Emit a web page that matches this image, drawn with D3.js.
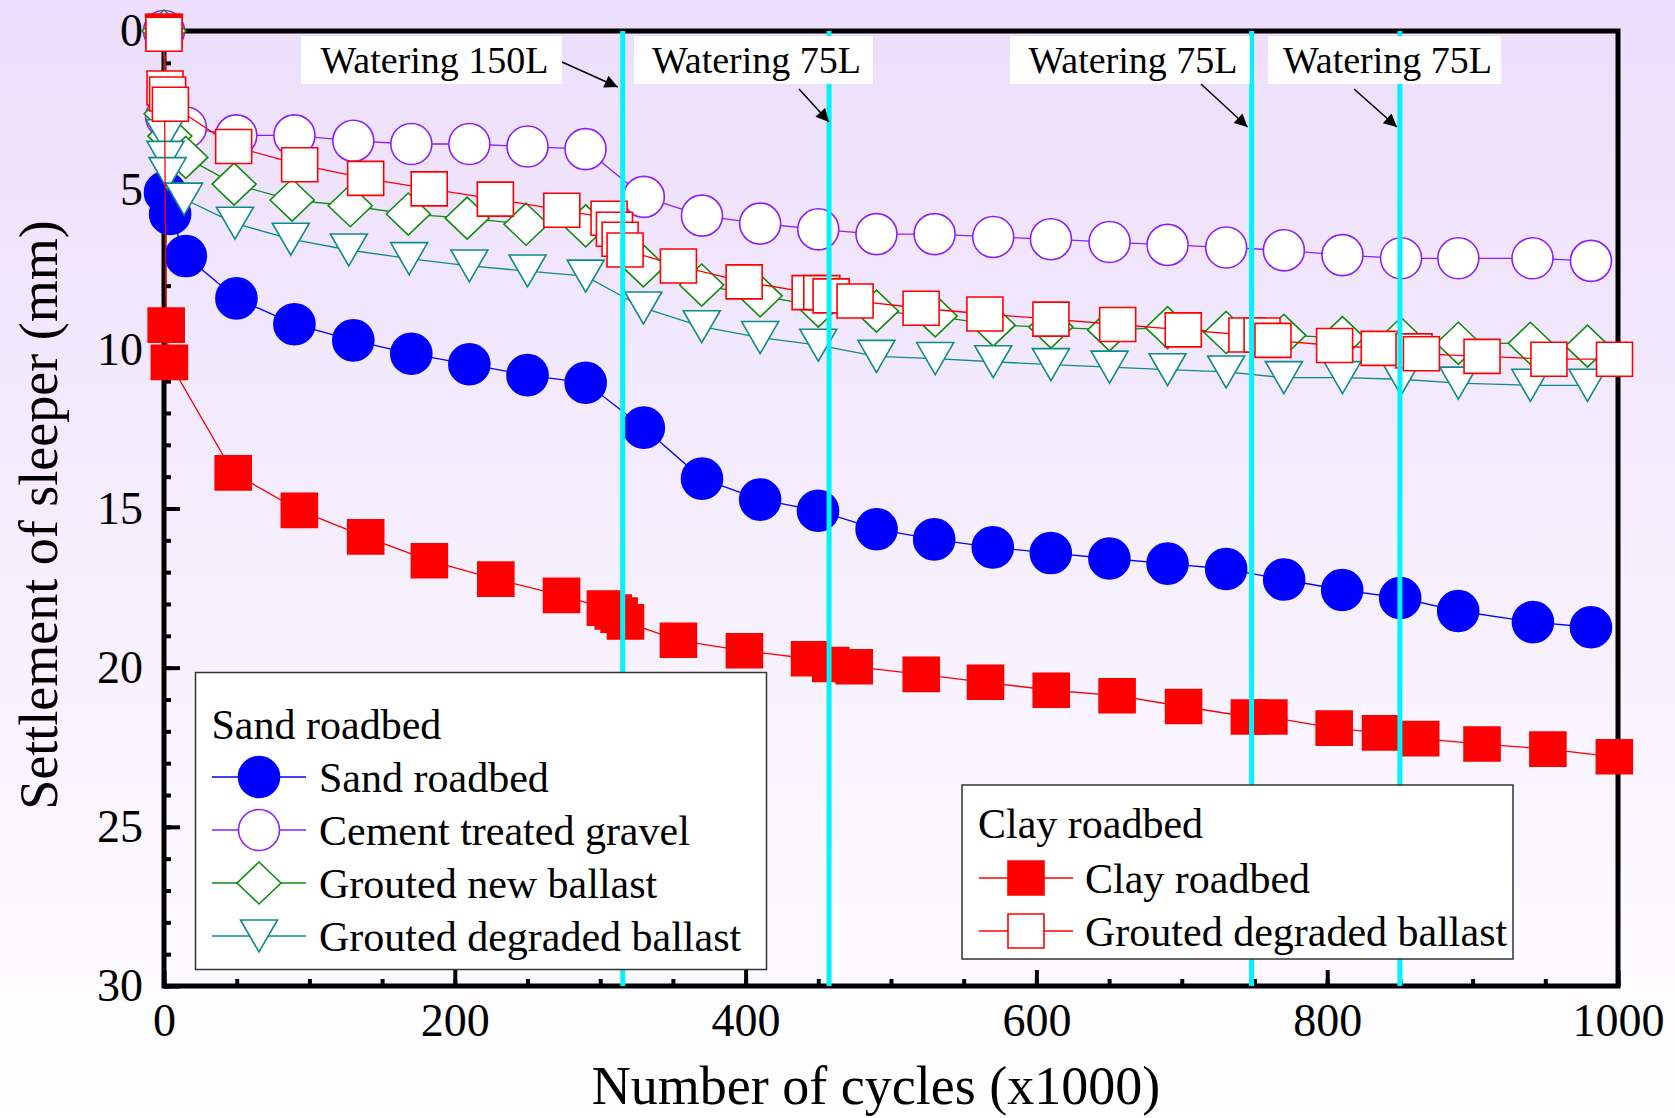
<!DOCTYPE html>
<html>
<head>
<meta charset="utf-8">
<script src="https://cdn.jsdelivr.net/npm/d3@7"></script>
<style>
  html, body { margin: 0; padding: 0; background: #fff; }
  svg { display: block; font-family: "Liberation Serif", "Times New Roman", serif; }
</style>
</head>
<body>
<svg id="chart" width="1675" height="1118"></svg>
<script>
// settlement of sleeper (mm) against number of cycles (x1000)
const sandRoadbed = [[0.7, 5.07], [4.2, 5.75], [15, 7.07], [49.8, 8.40], [89.7, 9.21], [130.2, 9.72], [170.1, 10.14],
  [210, 10.47], [250, 10.81], [290, 11.05], [330, 12.46], [370, 14.06], [410, 14.72], [449.8, 15.07], [490.1, 15.65],
  [529.7, 15.97], [570, 16.22], [609.9, 16.40], [650.2, 16.57], [690.2, 16.73], [730.5, 16.90], [770.4, 17.23],
  [810.3, 17.56], [850.2, 17.81], [890.1, 18.22], [941.5, 18.57], [981.4, 18.73]];

const cementGravel = [[0, 0], [1.5, 2.7], [15, 3.03], [49.7, 3.28], [89.7, 3.28], [130.2, 3.45], [170.1, 3.55],
  [210, 3.55], [250, 3.63], [289.9, 3.71], [330, 5.21], [370, 5.80], [410, 6.05], [450, 6.23], [490, 6.38], [530, 6.38],
  [570.3, 6.47], [610, 6.54], [650.3, 6.63], [690.2, 6.72], [730.5, 6.80], [770.2, 6.89], [810.5, 7.04], [850.8, 7.14],
  [890.2, 7.14], [941.2, 7.14], [981.4, 7.22]];

const groutedNew = [[0, 0], [1.5, 2.6], [4, 3.3], [15, 3.97], [48.2, 4.81], [88.1, 5.31], [128.1, 5.49], [168, 5.75],
  [208.5, 5.88], [249, 6.07], [290, 6.12], [329.7, 7.38], [369.8, 7.98], [410, 8.32], [450, 8.64], [490, 8.80],
  [530.4, 8.95], [570.3, 9.24], [610, 9.30], [650.3, 9.39], [690.2, 9.32], [730.5, 9.47], [770.2, 9.56], [810.5, 9.63],
  [850.8, 9.66], [890.2, 9.81], [939.7, 9.81], [979, 9.90]];

const groutedDegradedSand = [[0, 0], [0.5, 3.29], [1, 3.97], [2.5, 4.48], [13.8, 5.28], [48.8, 6.04], [87.2, 6.54],
  [127.1, 6.88], [168.6, 7.15], [210, 7.38], [250, 7.54], [290, 7.70], [329.7, 8.70], [369.8, 9.29], [410, 9.63],
  [450, 9.87], [490, 10.22], [530.4, 10.29], [570.3, 10.39], [610, 10.48], [650.3, 10.56], [690.2, 10.64],
  [730.5, 10.71], [770.2, 10.89], [810.5, 10.89], [850.8, 10.94], [890.2, 11.06], [939.7, 11.13], [979, 11.13]];

const clayRoadbed = [[0, 0], [1.5, 9.24], [3.7, 10.41], [47.6, 13.88], [93.1, 15.06], [138.7, 15.89], [182.5, 16.64],
  [228.2, 17.22], [273.4, 17.73], [303.6, 18.13], [309, 18.25], [313, 18.35], [317.4, 18.56], [353.8, 19.14],
  [399.2, 19.47], [444, 19.72], [458.6, 19.90], [474.7, 19.97], [520.8, 20.21], [565, 20.46], [610.2, 20.71],
  [655.5, 20.88], [701.2, 21.22], [746.5, 21.55], [759.9, 21.55], [804.8, 21.90], [836.7, 22.05], [864.3, 22.23],
  [906.5, 22.40], [951.8, 22.56], [997.5, 22.80]];

const groutedDegradedClay = [[0, 0.1], [0.7, 1.79], [2.5, 1.98], [4.4, 2.3], [47.9, 3.63], [93.3, 4.2], [138.7, 4.63],
  [182.4, 4.96], [227.9, 5.28], [273.6, 5.63], [306.1, 5.88], [309.8, 6.23], [313.7, 6.54], [317.1, 6.88],
  [353.8, 7.38], [399, 7.88], [444.4, 8.22], [452.4, 8.22], [458.8, 8.32], [475.3, 8.48], [520.7, 8.71],
  [564.6, 8.89], [610, 9.05], [655.9, 9.22], [701, 9.39], [744.8, 9.55], [755.2, 9.55], [762.7, 9.72],
  [805.1, 9.88], [835.8, 9.97], [859.7, 10.05], [864.8, 10.14], [906.5, 10.22], [952.5, 10.31], [997.6, 10.31]];

const xTicks = [0, 200, 400, 600, 800, 1000];
const yTicks = [0, 5, 10, 15, 20, 25, 30];

const wateringAt = [315.5, 457.4, 748, 850];
const wateringText = ['Watering 150L', 'Watering 75L', 'Watering 75L', 'Watering 75L'];

// styles
const series = [
  { name: 'Sand roadbed', data: sandRoadbed, color: '#0000ff', fill: '#0000ff', shape: 'circle', group: 0 },
  { name: 'Cement treated gravel', data: cementGravel, color: '#8a1fff', fill: '#fff', shape: 'circle', group: 0 },
  { name: 'Grouted new ballast', data: groutedNew, color: '#118a11', fill: '#fff', shape: 'diamond', group: 0 },
  { name: 'Grouted degraded ballast', data: groutedDegradedSand, color: '#0f8a8a', fill: '#fff', shape: 'triangle', group: 0 },
  { name: 'Clay roadbed', data: clayRoadbed, color: '#ff0000', fill: '#ff0000', shape: 'square', group: 1 },
  { name: 'Grouted degraded ballast', data: groutedDegradedClay, color: '#ff0000', fill: '#fff', shape: 'square', group: 1 }
];

const shapes = {
  circle: d3.symbol(d3.symbolCircle, Math.PI * 20.5 * 20.5)(),
  square: 'M-18,-17H18V17H-18Z',
  diamond: 'M0,-21L22,0L0,21L-22,0Z',
  triangle: 'M-18.5,-16L18.5,-16L0,16Z'
};

const W = 1675, H = 1118;
const x = d3.scaleLinear().domain([0, 1000]).range([164, 1618]);
const y = d3.scaleLinear().domain([0, 30]).range([31, 986]);

const svg = d3.select('#chart');

const defs = svg.append('defs');
const grad = defs.append('linearGradient')
  .attr('id', 'bg')
  .attr('x1', 0).attr('y1', 0).attr('x2', 0).attr('y2', 1);
grad.append('stop').attr('offset', 0).attr('stop-color', '#ecdefc');
grad.append('stop').attr('offset', 1).attr('stop-color', '#ffffff');

defs.append('marker')
  .attr('id', 'head')
  .attr('viewBox', '0 0 10 10')
  .attr('refX', 10).attr('refY', 5)
  .attr('markerUnits', 'userSpaceOnUse')
  .attr('markerWidth', 22).attr('markerHeight', 13)
  .attr('orient', 'auto')
  .append('path')
  .attr('d', 'M0,0L10,5L0,10Z')
  .attr('fill', '#000');

svg.append('rect')
  .attr('width', W).attr('height', H)
  .attr('fill', 'url(#bg)');

// frame
svg.append('rect')
  .attr('x', x(0)).attr('y', y(0))
  .attr('width', x(1000) - x(0)).attr('height', y(30) - y(0))
  .attr('fill', 'none')
  .attr('stroke', '#000')
  .attr('stroke-width', 5);

function styleAxis(g, size) {
  g.select('.domain').remove();
  g.selectAll('line').attr('stroke', '#000').attr('stroke-width', 4);
  g.selectAll('text')
    .attr('fill', '#000')
    .attr('font-size', size)
    .attr('font-family', '"Liberation Serif", "Times New Roman", serif');
}

// minor ticks
svg.append('g')
  .attr('transform', `translate(0,${y(30)})`)
  .call(d3.axisBottom(x).tickValues(d3.range(0, 1001, 50)).tickSize(-7).tickSizeOuter(0).tickFormat(''))
  .call(g => styleAxis(g, 0));

svg.append('g')
  .attr('transform', `translate(${x(0)},0)`)
  .call(d3.axisLeft(y).tickValues(d3.range(0, 31, 1)).tickSize(-7).tickSizeOuter(0).tickFormat(''))
  .call(g => styleAxis(g, 0));

// major ticks
svg.append('g')
  .attr('transform', `translate(0,${y(30)})`)
  .call(d3.axisBottom(x).tickValues(xTicks).tickFormat(d3.format('d')).tickSize(-16).tickSizeOuter(0).tickPadding(17))
  .call(g => styleAxis(g, 46));

svg.append('g')
  .attr('transform', `translate(${x(0)},0)`)
  .call(d3.axisLeft(y).tickValues(yTicks).tickFormat(d3.format('d')).tickSize(-16).tickSizeOuter(0).tickPadding(21))
  .call(g => styleAxis(g, 46));

// axis titles
svg.append('text')
  .attr('x', 876).attr('y', 1104)
  .attr('text-anchor', 'middle')
  .attr('font-size', 54)
  .text('Number of cycles (x1000)');

svg.append('text')
  .attr('transform', 'translate(57,515) rotate(-90)')
  .attr('text-anchor', 'middle')
  .attr('font-size', 54)
  .text('Settlement of sleeper (mm)');

// series
const line = d3.line().x(d => x(d[0])).y(d => y(d[1]));

series.forEach(s => {
  const g = svg.append('g');
  g.append('path')
    .attr('d', line(s.data))
    .attr('fill', 'none')
    .attr('stroke', s.color)
    .attr('stroke-width', 1.3);
  g.selectAll('path.pt')
    .data(s.data)
    .join('path')
    .attr('class', 'pt')
    .attr('d', shapes[s.shape])
    .attr('transform', d => `translate(${x(d[0])},${y(d[1])})`)
    .attr('fill', s.fill)
    .attr('stroke', s.color)
    .attr('stroke-width', 1.6);
});

// watering lines
svg.append('g')
  .selectAll('line')
  .data(wateringAt)
  .join('line')
  .attr('x1', d => x(d)).attr('x2', d => x(d))
  .attr('y1', y(0)).attr('y2', y(30))
  .attr('stroke', '#00f4ff')
  .attr('stroke-width', 5);

// annotation boxes
const notes = [
  { x0: 301, x1: 562, from: [562, 62], tip: [-5, 87] },
  { x0: 634, x1: 873, from: [799, 89], tip: [0, 122] },
  { x0: 1010, x1: 1250, from: [1201, 84], tip: [-4, 127] },
  { x0: 1268, x1: 1501, from: [1354, 89], tip: [-3, 127] }
];

const noteG = svg.append('g');
notes.forEach((n, i) => {
  noteG.append('rect')
    .attr('x', n.x0).attr('y', 36)
    .attr('width', n.x1 - n.x0).attr('height', 48)
    .attr('fill', '#fff');
  noteG.append('text')
    .attr('x', (n.x0 + n.x1) / 2 + 3).attr('y', 73)
    .attr('text-anchor', 'middle')
    .attr('font-size', 38)
    .text(wateringText[i]);
  noteG.append('line')
    .attr('x1', n.from[0]).attr('y1', n.from[1])
    .attr('x2', x(wateringAt[i]) + n.tip[0]).attr('y2', n.tip[1])
    .attr('stroke', '#000')
    .attr('stroke-width', 1.5)
    .attr('marker-end', 'url(#head)');
});

// legends
const legends = [
  { title: 'Sand roadbed', box: [195.5, 672.5, 571, 297], titleY: 739, rows: [777, 830, 883, 936], lineX: [212, 306], textX: 319 },
  { title: 'Clay roadbed', box: [962, 785, 551, 174], titleY: 838, rows: [878, 931], lineX: [979, 1073], textX: 1085 }
];

legends.forEach((lg, gi) => {
  const g = svg.append('g');
  g.append('rect')
    .attr('x', lg.box[0]).attr('y', lg.box[1])
    .attr('width', lg.box[2]).attr('height', lg.box[3])
    .attr('fill', '#fff')
    .attr('stroke', '#333')
    .attr('stroke-width', 1.5);
  g.append('text')
    .attr('x', lg.box[0] + 16).attr('y', lg.titleY)
    .attr('font-size', 42)
    .text(lg.title);
  series.filter(s => s.group === gi).forEach((s, i) => {
    const cy = lg.rows[i];
    g.append('line')
      .attr('x1', lg.lineX[0]).attr('x2', lg.lineX[1])
      .attr('y1', cy).attr('y2', cy)
      .attr('stroke', s.color)
      .attr('stroke-width', 1.3);
    g.append('path')
      .attr('d', shapes[s.shape])
      .attr('transform', `translate(${(lg.lineX[0] + lg.lineX[1]) / 2},${cy})`)
      .attr('fill', s.fill)
      .attr('stroke', s.color)
      .attr('stroke-width', 1.6);
    g.append('text')
      .attr('x', lg.textX).attr('y', cy + 15)
      .attr('font-size', 42)
      .text(s.name);
  });
});
</script>
</body>
</html>
